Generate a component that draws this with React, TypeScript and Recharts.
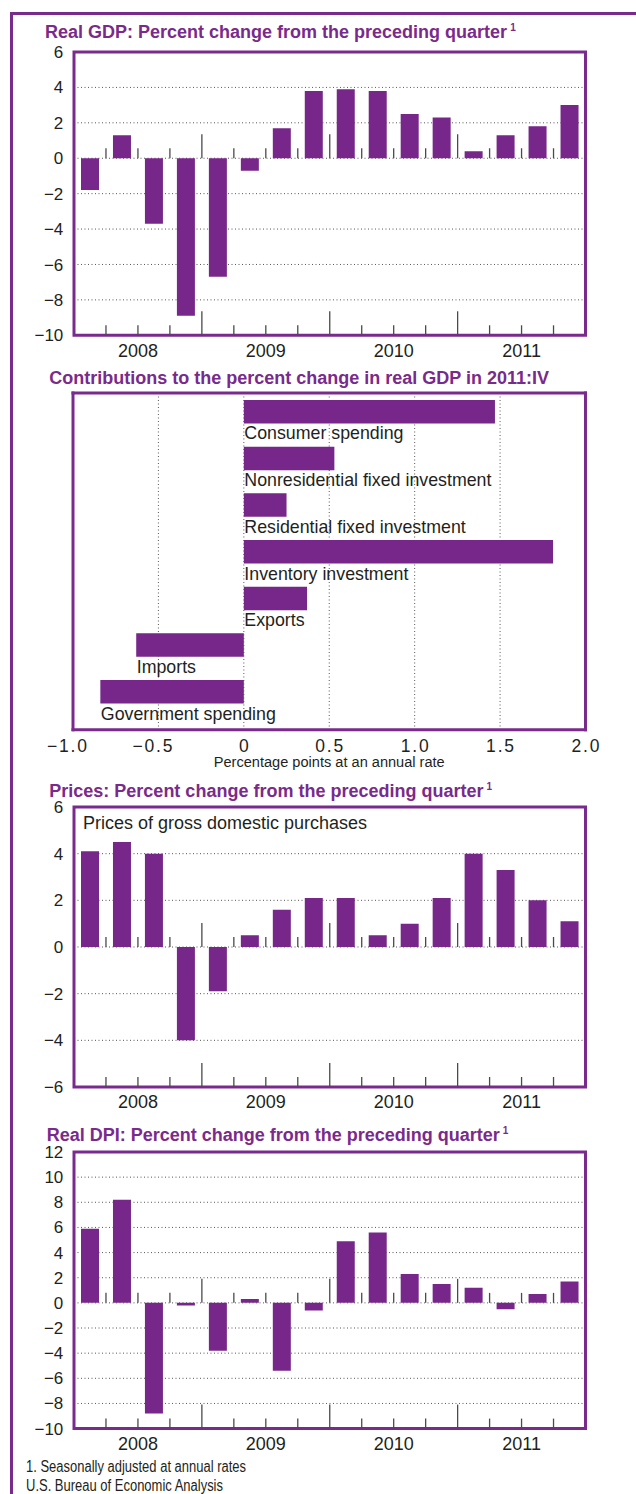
import React from 'react';
import {
  BarChart,
  Bar,
  XAxis,
  YAxis,
  CartesianGrid,
  ReferenceLine,
  ReferenceArea,
  LabelList,
} from 'recharts';

// ---------- data ----------
const quarters = [
  '2008 Q1', '2008 Q2', '2008 Q3', '2008 Q4',
  '2009 Q1', '2009 Q2', '2009 Q3', '2009 Q4',
  '2010 Q1', '2010 Q2', '2010 Q3', '2010 Q4',
  '2011 Q1', '2011 Q2', '2011 Q3', '2011 Q4',
];
const years = ['2008', '2009', '2010', '2011'];

const gdpChange = [-1.8, 1.3, -3.7, -8.9, -6.7, -0.7, 1.7, 3.8, 3.9, 3.8, 2.5, 2.3, 0.4, 1.3, 1.8, 3.0];
const gdpTicks = [-10, -8, -6, -4, -2, 0, 2, 4, 6];

const priceChange = [4.1, 4.5, 4.0, -4.0, -1.9, 0.5, 1.6, 2.1, 2.1, 0.5, 1.0, 2.1, 4.0, 3.3, 2.0, 1.1];
const priceTicks = [-6, -4, -2, 0, 2, 4, 6];

const dpiChange = [5.9, 8.2, -8.8, -0.2, -3.8, 0.3, -5.4, -0.6, 4.9, 5.6, 2.3, 1.5, 1.2, -0.5, 0.7, 1.7];
const dpiTicks = [-10, -8, -6, -4, -2, 0, 2, 4, 6, 8, 10, 12];

const components = [
  'Consumer spending',
  'Nonresidential fixed investment',
  'Residential fixed investment',
  'Inventory investment',
  'Exports',
  'Imports',
  'Government spending',
];
const contributions = [1.47, 0.53, 0.25, 1.81, 0.37, -0.63, -0.84];
const contribTicks = [-1, -0.5, 0, 0.5, 1, 1.5, 2];
const contribTickLabels = ['−1.0', '−0.5', '0', '0.5', '1.0', '1.5', '2.0'];

// ---------- text ----------
const gdpTitle = 'Real GDP: Percent change from the preceding quarter';
const contribTitle = 'Contributions to the percent change in real GDP in 2011:IV';
const priceTitle = 'Prices: Percent change from the preceding quarter';
const dpiTitle = 'Real DPI: Percent change from the preceding quarter';
const priceInner = 'Prices of gross domestic purchases';
const contribAxisLabel = 'Percentage points at an annual rate';
const footnote1 = '1. Seasonally adjusted at annual rates';
const footnote2 = 'U.S. Bureau of Economic Analysis';

// ---------- style ----------
const FONT = "'Liberation Sans', Arial, Helvetica, sans-serif";
const NARROW = "'Liberation Sans Narrow', 'Arial Narrow', 'Liberation Sans', sans-serif";
const PURPLE = '#7a2a8c';
const BAR = '#772789';
const TEXT = '#231f20';
const GRID = '#555';
const TICK = '#4a4a4a';

const fmtSigned = (v: number) => (v < 0 ? '−' + Math.abs(v) : String(v));

// quarter-boundary tick marks drawn upward from a reference line; optional year labels below it
const quarterTickShape = (shortLen: number, longLen: number, withYears: boolean) => (props: any) => {
  const x1 = Number(props.x1);
  const x2 = Number(props.x2);
  const y = Number(props.y1);
  const n = quarters.length;
  const step = (x2 - x1) / n;
  const items = [];
  for (let i = 1; i < n; i++) {
    const x = x1 + step * i;
    const len = i % 4 === 0 ? longLen : shortLen;
    items.push(
      <line key={'t' + i} x1={x} x2={x} y1={y} y2={y - len} stroke={TICK} strokeWidth={1.3} />
    );
  }
  if (withYears) {
    years.forEach((yr, k) => {
      items.push(
        <text
          key={'y' + k}
          x={x1 + step * (4 * k + 2)}
          y={y + 8.7}
          dy="0.71em"
          textAnchor="middle"
          fill={TEXT}
          fontSize={18}
          fontFamily={FONT}
        >
          {yr}
        </text>
      );
    });
  }
  return <g>{items}</g>;
};

const titleStyle = {
  position: 'absolute' as const,
  fontFamily: FONT,
  fontWeight: 'bold' as const,
  fontSize: 18,
  lineHeight: '16px',
  color: PURPLE,
  whiteSpace: 'nowrap' as const,
};

function Title({ text, left, top, note }: { text: string; left: number; top: number; note?: boolean }) {
  return (
    <div style={{ ...titleStyle, left, top }}>
      {text}
      {note ? (
        <span style={{ fontSize: 10, position: 'relative', top: -7, marginLeft: 3 }}>1</span>
      ) : null}
    </div>
  );
}

function QuarterChart({
  values,
  ticks,
  plotTop,
  plotHeight,
  inner,
}: {
  values: number[];
  ticks: number[];
  plotTop: number;
  plotHeight: number;
  inner?: string;
}) {
  const data = quarters.map((q, i) => ({ q, v: values[i] }));
  const mt = 10;
  const mb = 32;
  const yMin = ticks[0];
  const yMax = ticks[ticks.length - 1];
  return (
    <div style={{ position: 'absolute', left: 0, top: plotTop - mt }}>
      <BarChart
        width={636}
        height={mt + plotHeight + mb}
        data={data}
        margin={{ top: mt, right: 50.5, bottom: mb, left: 0 }}
        barCategoryGap={0}
      >
        <CartesianGrid horizontal vertical={false} stroke={GRID} strokeDasharray="1 2.5" />
        <XAxis dataKey="q" hide />
        <YAxis
          domain={[yMin, yMax]}
          ticks={ticks}
          interval={0}
          allowDataOverflow
          width={74}
          axisLine={false}
          tickLine={false}
          tickSize={0}
          tickMargin={10.7}
          tickFormatter={fmtSigned}
          tick={{ fill: TEXT, fontSize: 17, fontFamily: FONT }}
        />
        <Bar dataKey="v" fill={BAR} barSize={18} isAnimationActive={false} />
        <ReferenceLine y={0} stroke="none" shape={quarterTickShape(10, 24, false)} ifOverflow="visible" />
        <ReferenceLine y={yMin} stroke="none" shape={quarterTickShape(10, 24, true)} ifOverflow="visible" />
        <ReferenceArea
          y1={yMin}
          y2={yMax}
          fill="none"
          stroke={PURPLE}
          strokeWidth={3}
          ifOverflow="visible"
          label={
            inner
              ? {
                  value: inner,
                  position: 'insideTopLeft',
                  offset: 9,
                  fill: TEXT,
                  fontSize: 18,
                  fontFamily: FONT,
                }
              : undefined
          }
        />
      </BarChart>
    </div>
  );
}

const ContribTick = (props: any) => {
  const { x, y, payload } = props;
  const idx = contribTicks.indexOf(payload.value);
  const label = contribTickLabels[idx] ?? String(payload.value);
  const neg = label.startsWith('−');
  const body = neg ? label.slice(1) : label;
  const style = { fill: TEXT, fontSize: 17.5, fontFamily: FONT, letterSpacing: 1.8 };
  return (
    <g>
      <text x={x + 0.9} y={y} dy="0.71em" textAnchor="middle" {...style}>
        {body}
      </text>
      {neg ? (
        <text x={x - 14} y={y} dy="0.71em" textAnchor="end" {...style}>
          −
        </text>
      ) : null}
    </g>
  );
};

const renderComponentLabel = (props: any) => {
  const vb = props.viewBox && props.viewBox.width !== undefined ? props.viewBox : props;
  const x = Number(vb.x);
  const w = Number(vb.width);
  const y = Number(vb.y);
  const h = Number(vb.height);
  const left = Math.min(x, x + w);
  const bottom = Math.max(y, y + h);
  return (
    <text x={left + 0.5} y={bottom + 16} fill={TEXT} fontSize={17.8} fontFamily={FONT}>
      {props.value}
    </text>
  );
};

function ContribChart() {
  const data = components.map((name, i) => ({ name, value: contributions[i] }));
  const plotTop = 393.3;
  const plotHeight = 336.7;
  const mt = 10;
  const xh = 45;
  return (
    <div style={{ position: 'absolute', left: 0, top: plotTop - mt }}>
      <BarChart
        layout="vertical"
        width={636}
        height={mt + plotHeight + xh}
        data={data}
        margin={{ top: mt, right: 50.5, bottom: 0, left: 73 }}
      >
        <CartesianGrid horizontal={false} vertical stroke={GRID} strokeDasharray="1 2.5" />
        <XAxis
          type="number"
          domain={[-1, 2]}
          ticks={contribTicks}
          interval={0}
          allowDataOverflow
          axisLine={false}
          tickLine={false}
          tickSize={0}
          tickMargin={9.6}
          height={xh}
          tick={<ContribTick />}
          label={{
            value: contribAxisLabel,
            position: 'insideBottom',
            offset: 7.5,
            fill: TEXT,
            fontSize: 14.6,
            fontFamily: FONT,
          }}
        />
        <YAxis type="category" dataKey="name" hide padding={{ top: -5, bottom: 15 }} />
        <Bar dataKey="value" fill={BAR} barSize={23.5} isAnimationActive={false}>
          <LabelList dataKey="name" content={renderComponentLabel} />
        </Bar>
        {/* plot frame */}
        <CartesianGrid
          stroke={PURPLE}
          strokeWidth={3}
          strokeLinecap="square"
          verticalCoordinatesGenerator={(p: any) => [p.offset.left, p.offset.left + p.offset.width]}
          horizontalCoordinatesGenerator={(p: any) => [p.offset.top, p.offset.top + p.offset.height]}
        />
      </BarChart>
    </div>
  );
}

export default function App() {
  return (
    <div
      style={{
        position: 'absolute',
        left: 0,
        top: 0,
        width: 636,
        height: 1494,
        overflow: 'hidden',
        background: '#fff',
        fontFamily: FONT,
      }}
    >
      {/* outer frame */}
      <div
        style={{
          position: 'absolute',
          left: 10.2,
          top: 11.8,
          width: 700,
          height: 1600,
          borderLeft: `3px solid ${PURPLE}`,
          borderTop: `3px solid ${PURPLE}`,
        }}
      />

      <Title text={gdpTitle} left={45} top={23.8} note />
      <QuarterChart values={gdpChange} ticks={gdpTicks} plotTop={51.7} plotHeight={283.3} />

      <Title text={contribTitle} left={49.3} top={369.8} />
      <ContribChart />

      <Title text={priceTitle} left={49.3} top={783.1} note />
      <QuarterChart
        values={priceChange}
        ticks={priceTicks}
        plotTop={806.7}
        plotHeight={280}
        inner={priceInner}
      />

      <Title text={dpiTitle} left={46.7} top={1126.5} note />
      <QuarterChart values={dpiChange} ticks={dpiTicks} plotTop={1151.7} plotHeight={276.6} />

      <svg width={636} height={44} style={{ position: 'absolute', left: 0, top: 1450 }}>
        <text
          x={26}
          y={22}
          fill={TEXT}
          fontSize={15.8}
          fontFamily={NARROW}
          textLength={220}
          lengthAdjust="spacingAndGlyphs"
        >
          {footnote1}
        </text>
        <text
          x={26}
          y={40.5}
          fill={TEXT}
          fontSize={15.8}
          fontFamily={NARROW}
          textLength={197}
          lengthAdjust="spacingAndGlyphs"
        >
          {footnote2}
        </text>
      </svg>
    </div>
  );
}
